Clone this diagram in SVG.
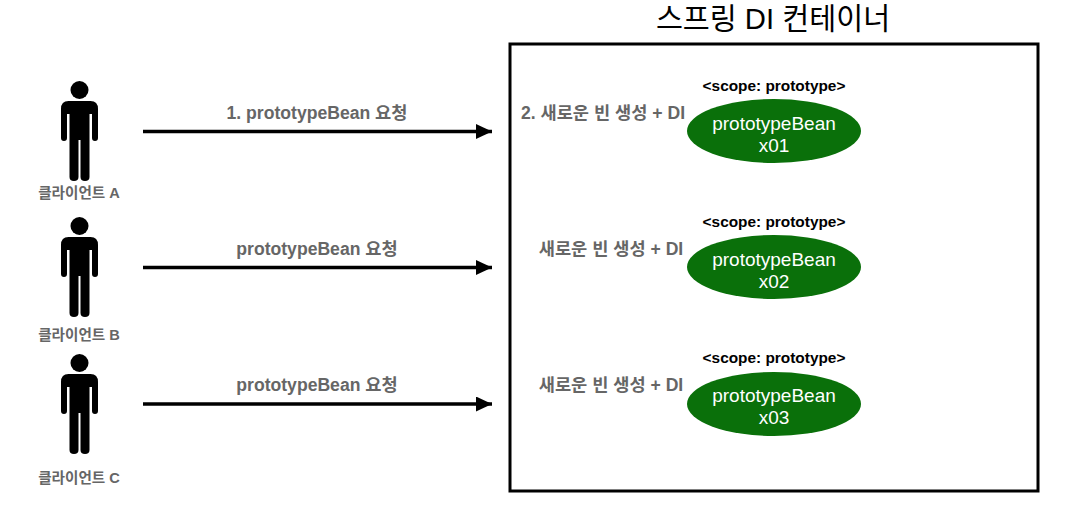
<svg xmlns="http://www.w3.org/2000/svg" width="1074" height="510" viewBox="0 0 1074 510">
<style>
text{font-family:"Liberation Sans","Noto Sans CJK KR",sans-serif;text-anchor:middle}
.g{fill:#666;font-weight:700}
.lbl{font-size:17.6px}
.cl{font-size:14.6px}
.sc{fill:#000;font-size:15.4px;font-weight:700}
.bean{fill:#fff;font-size:19px}
.el{fill:#0a700a}
.ln{stroke:#000;stroke-width:3.5;fill:none}
</style>
<defs>
<marker id="ah" markerUnits="userSpaceOnUse" markerWidth="17" markerHeight="16" refX="16" refY="7.500" orient="auto"><path d="M0 0L16 7.500L0 15Z" fill="#000"/></marker>
<g id="person"><circle cx="0" cy="-41" r="9"/><path d="M-11-30H11Q18.500-30 18.500-22V7Q18.500 10 15.500 10Q12.500 10 12.500 7V-17H10V46Q10 50 5.500 50Q1 50 1 46V9H-1V46Q-1 50-5.500 50Q-10 50-10 46V-17H-12.500V7Q-12.500 10-15.500 10Q-18.500 10-18.500 7V-22Q-18.500-30-11-30Z"/></g>
</defs>
<rect id="container" x="510" y="44" width="528" height="447" fill="#fff" stroke="#000" stroke-width="3"/>
<text x="773" y="29" style="font-size:29.300px;font-weight:400">스프링 DI 컨테이너</text>
<g id="client-a"><use href="#person" x="79.500" y="131"/><text class="g cl" x="79" y="198">클라이언트 A</text></g>
<g id="client-b"><use href="#person" x="79.500" y="267"/><text class="g cl" x="79" y="340">클라이언트 B</text></g>
<g id="client-c"><use href="#person" x="79.500" y="404"/><text class="g cl" x="79" y="483">클라이언트 C</text></g>
<g id="connectors">
<line class="ln" x1="143" y1="131.500" x2="492" y2="131.500" marker-end="url(#ah)"/>
<line class="ln" x1="143" y1="267.500" x2="492" y2="267.500" marker-end="url(#ah)"/>
<line class="ln" x1="143" y1="404" x2="492" y2="404" marker-end="url(#ah)"/>
</g>
<text class="g lbl" x="317" y="119">1. prototypeBean 요청</text>
<text class="g lbl" x="317" y="255">prototypeBean 요청</text>
<text class="g lbl" x="317" y="391">prototypeBean 요청</text>
<text class="g lbl" x="603" y="119">2. 새로운 빈 생성 + DI</text>
<text class="g lbl" x="611" y="255">새로운 빈 생성 + DI</text>
<text class="g lbl" x="611" y="391">새로운 빈 생성 + DI</text>
<g id="bean-1"><text class="sc" x="774" y="91">&lt;scope: prototype&gt;</text><ellipse class="el" cx="774" cy="131" rx="87" ry="32"/><text class="bean" x="774" y="130">prototypeBean</text><text class="bean" x="774" y="152">x01</text></g>
<g id="bean-2"><text class="sc" x="774" y="227">&lt;scope: prototype&gt;</text><ellipse class="el" cx="774" cy="267" rx="87" ry="32"/><text class="bean" x="774" y="266">prototypeBean</text><text class="bean" x="774" y="288">x02</text></g>
<g id="bean-3"><text class="sc" x="774" y="363">&lt;scope: prototype&gt;</text><ellipse class="el" cx="774" cy="404" rx="87" ry="32"/><text class="bean" x="774" y="402">prototypeBean</text><text class="bean" x="774" y="424">x03</text></g>
</svg>
